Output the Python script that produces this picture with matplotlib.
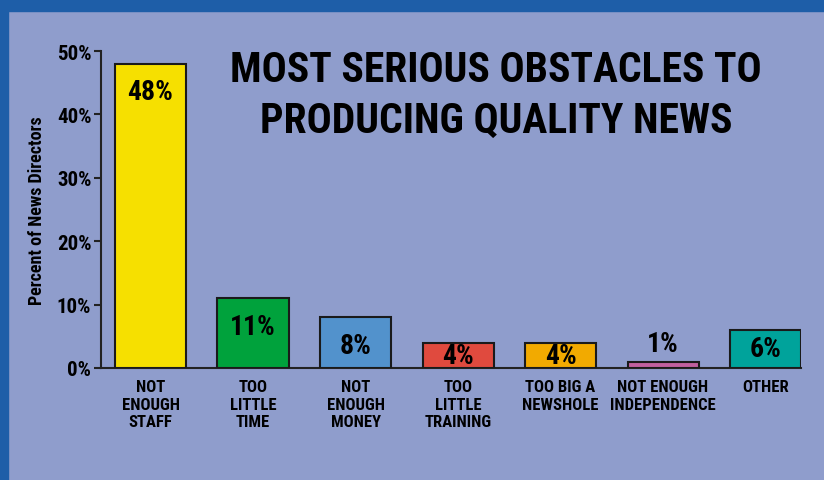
import numpy as np
import matplotlib.pyplot as plt
from matplotlib.patches import Rectangle

categories = ["NOT\nENOUGH\nSTAFF", "TOO\nLITTLE\nTIME", "NOT\nENOUGH\nMONEY",
              "TOO\nLITTLE\nTRAINING", "TOO BIG A\nNEWSHOLE", "NOT ENOUGH\nINDEPENDENCE", "OTHER"]
values = [48, 11, 8, 4, 4, 1, 6]
colors = ["#f6e000", "#00a23c", "#5292cc", "#e04a3e", "#f2aa00", "#c0609e", "#00a39b"]
yticks = [0, 10, 20, 30, 40, 50]

plt.rcParams["font.family"] = ["Roboto Condensed", "Archivo Narrow", "PT Sans Narrow", "DejaVu Sans"]
plt.rcParams["font.weight"] = "bold"

bg = "#8f9dcc"
frame = "#1e5ea8"
W, H = 824, 481
fig = plt.figure(figsize=(W / 100, H / 100), dpi=100, facecolor=bg)
fig.patches.append(Rectangle((0, 1 - 12 / H), 1, 12 / H, transform=fig.transFigure,
                             color=frame, zorder=0))
fig.patches.append(Rectangle((0, 0), 8 / W, 1, transform=fig.transFigure,
                             color=frame, zorder=0))

ax = fig.add_axes([101 / W, (H - 369) / H, 700 / W, 317 / H])
ax.set_facecolor("none")
x = np.arange(len(values))
ax.bar(x, values, width=0.693, color=colors, edgecolor="#1a1a1a", linewidth=1.5, zorder=3)
ax.set_xlim(-0.483, 6.346)
ax.set_ylim(0, 50)

for s in ["top", "right"]:
    ax.spines[s].set_visible(False)
for s in ["left", "bottom"]:
    ax.spines[s].set_color("#222222")
    ax.spines[s].set_linewidth(1.5)
ax.set_yticks(yticks)
ax.set_yticklabels([f"{t}%" for t in yticks], fontsize=15, fontweight="heavy")
ax.tick_params(axis="y", length=5, width=1.5, color="#222222", pad=2)
ax.set_xticks([])
ax.set_ylabel("Percent of News Directors", fontsize=13, fontweight="bold", labelpad=8)

for i, v in enumerate(values):
    if v >= 8:
        ax.text(i, v - 2.3, f"{v}%", ha="center", va="top", fontsize=20, fontweight="heavy", zorder=4)
    elif v >= 3:
        ax.text(i, v / 2, f"{v}%", ha="center", va="center", fontsize=20, fontweight="heavy", zorder=4)
    else:
        ax.text(i, v + 0.7, f"{v}%", ha="center", va="bottom", fontsize=20, fontweight="heavy", zorder=4)
    ax.annotate(categories[i], (i, 0), xytext=(0, -8), textcoords="offset points",
                ha="center", va="top", fontsize=12, fontweight="heavy", linespacing=1.22)

fig.text(496 / W, 1 - 82 / H, "MOST SERIOUS OBSTACLES TO", ha="center", va="baseline",
         fontsize=30, fontweight="heavy")
fig.text(496 / W, 1 - 133 / H, "PRODUCING QUALITY NEWS", ha="center", va="baseline",
         fontsize=30, fontweight="heavy")

fig.savefig("out.png", dpi=100, facecolor=bg)
